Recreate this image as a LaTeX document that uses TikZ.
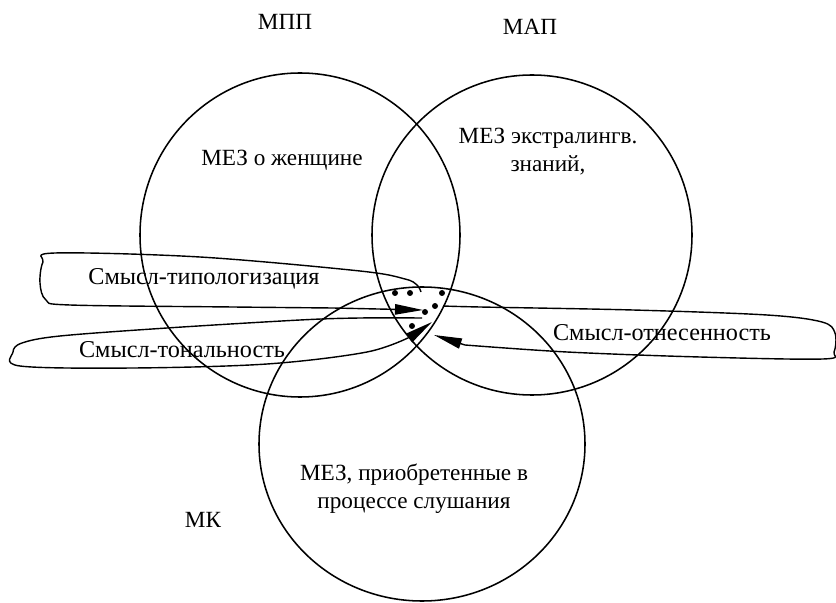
\documentclass[tikz,border=0pt]{standalone}
\usepackage{fontspec}
\setmainfont{Liberation Serif}
\usetikzlibrary{arrows.meta}

\tikzset{
  txt/.style={font=\fontsize{16.5}{20}\selectfont, inner sep=0pt, align=center},
  sense/.style={font=\fontsize{17.2}{20}\selectfont, inner sep=0pt},
  ring/.style={line width=1.1pt},
  loopline/.style={line width=1pt, -{Triangle[length=7mm, width=2.6mm]}}
}

\begin{document}
\begin{tikzpicture}[x=0.025cm, y=-0.025cm]

  \useasboundingbox (0,0) rectangle (836,603);

  % Draw the three circles
  \draw[ring] (300,235) ellipse[x radius=160, y radius=162];
  \draw[ring] (532,235) circle[radius=160];
  \draw[ring] (422,444) ellipse[x radius=163, y radius=157];

  % Circle labels
  \node[txt] (mpp) at (285,22) {МПП};
  \node[txt] (map) at (530,27) {МАП};
  \node[txt] (mk) at (203,520) {МК};

  % Texts inside the circles
  \node[txt] (woman) at (282,160) {МЕЗ о женщине};
  \node[txt] (extra) at (548,152) {МЕЗ экстралингв.\\знаний,};
  \node[txt] (listen) at (414,489) {МЕЗ, приобретенные в\\процессе слушания};

  % Loop labels
  \node[sense] (typo) at (204,279) {Смысл-типологизация};
  \node[sense] (tone) at (182,350) {Смысл-тональность};
  \node[sense] (refer) at (662,333) {Смысл-отнесенность};

  % Arrow tips in the common part
  \coordinate (tipA) at (423,310);
  \coordinate (tipB) at (432,322);
  \coordinate (tipC) at (434,335);

  % Loop round Smysl-tipologizacija
  \draw[loopline] plot[smooth, tension=0.55] coordinates {(421,292) (417,285) (405,279)
    (360,271) (200,257) (55,253) (43,262) (40,283) (46,300) (70,305) (233,307)
    (333,308)} -- (tipA);

  % Loop round Smysl-tonalnost
  \draw[loopline] plot[smooth, tension=0.55] coordinates {(422,318) (360,318) (300,320)
    (167,328) (60,336) (22,343) (13,352) (20,366) (133,368) (267,364) (367,352)
    (412,336)} -- (tipB);

  % Loop round Smysl-otnesennost
  \draw[loopline] plot[smooth, tension=0.55] coordinates {(443,306) (480,307) (633,310)
    (767,315) (822,322) (835,333) (834,352) (823,359) (700,357) (567,352)
    (465,345)} -- (tipC);

  % Dots in the common part
  \foreach \px/\py in {395/293, 410/293, 442/293, 435/306, 425/312, 412/326}
    \fill (\px,\py) circle[radius=3];

\end{tikzpicture}
\end{document}
